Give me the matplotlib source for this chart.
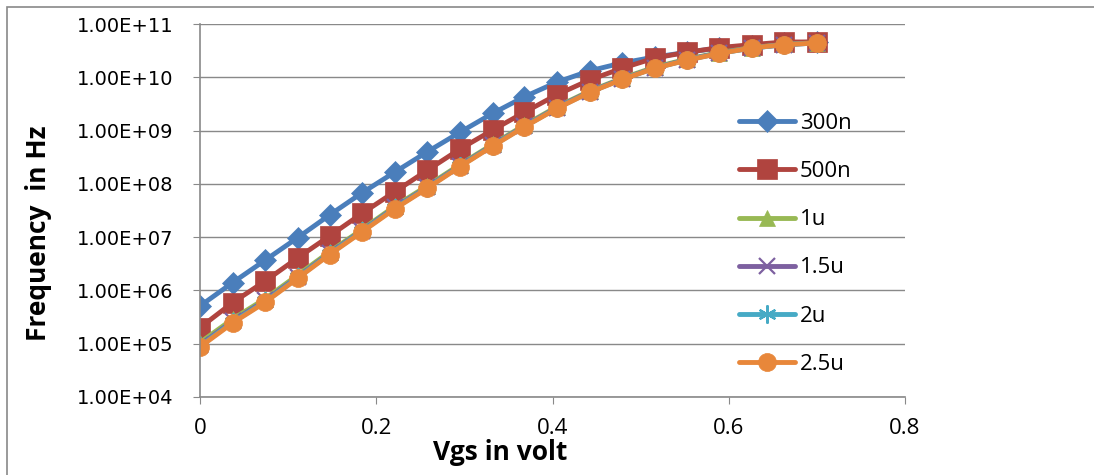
import matplotlib.pyplot as plt
from matplotlib.patches import Rectangle

# gate voltage (V) and oscillation frequency (Hz) for each channel length
vgs = [0, 0.037, 0.074, 0.111, 0.147, 0.184, 0.221, 0.258, 0.295, 0.332,
       0.368, 0.405, 0.442, 0.479, 0.516, 0.553, 0.589, 0.626, 0.663, 0.7]

f_300n = [5.1e5, 1.4e6, 3.7e6, 9.8e6, 2.6e7, 6.8e7, 1.66e8, 4.0e8, 9.3e8, 2.1e9,
          4.3e9, 8.1e9, 1.32e10, 1.86e10, 2.4e10, 2.95e10, 3.55e10, 3.9e10, 4.4e10, 4.6e10]
f_500n = [2.0e5, 5.9e5, 1.5e6, 4.1e6, 1.05e7, 2.8e7, 7.1e7, 1.8e8, 4.5e8, 1.02e9,
          2.2e9, 4.7e9, 8.9e9, 1.48e10, 2.3e10, 2.95e10, 3.6e10, 4.1e10, 4.6e10, 4.6e10]
f_1u = [1.05e5, 2.9e5, 7.0e5, 1.95e6, 5.3e6, 1.4e7, 3.8e7, 9.2e7, 2.3e8, 5.5e8,
        1.26e9, 2.8e9, 5.5e9, 9.6e9, 1.55e10, 2.2e10, 2.9e10, 3.6e10, 4.15e10, 4.45e10]
f_1u5 = [9.5e4, 2.65e5, 6.5e5, 1.8e6, 5.0e6, 1.33e7, 3.6e7, 8.7e7, 2.2e8, 5.3e8,
         1.21e9, 2.7e9, 5.35e9, 9.3e9, 1.5e10, 2.15e10, 2.85e10, 3.55e10, 4.1e10, 4.4e10]
f_2u = [9.0e4, 2.55e5, 6.2e5, 1.75e6, 4.85e6, 1.3e7, 3.5e7, 8.5e7, 2.15e8, 5.2e8,
        1.19e9, 2.65e9, 5.25e9, 9.2e9, 1.49e10, 2.12e10, 2.82e10, 3.52e10, 4.1e10, 4.4e10]
f_2u5 = [8.7e4, 2.45e5, 6.0e5, 1.7e6, 4.7e6, 1.26e7, 3.4e7, 8.3e7, 2.1e8, 5.1e8,
         1.17e9, 2.6e9, 5.2e9, 9.1e9, 1.48e10, 2.1e10, 2.8e10, 3.55e10, 4.1e10, 4.4e10]

labels = ["300n", "500n", "1u", "1.5u", "2u", "2.5u"]
series = [f_300n, f_500n, f_1u, f_1u5, f_2u, f_2u5]
colors = ["#4A7EBB", "#B0443F", "#98B954", "#7D60A0", "#46AAC5", "#E8873A"]
markers = ["D", "s", "^", "x", (6, 2, 0), "o"]
msizes = [11.5, 14, 11, 12, 13, 13]

ytick_vals = [1e4, 1e5, 1e6, 1e7, 1e8, 1e9, 1e10, 1e11]
ytick_labels = ["1.00E+04", "1.00E+05", "1.00E+06", "1.00E+07",
                "1.00E+08", "1.00E+09", "1.00E+10", "1.00E+11"]
xtick_vals = [0, 0.2, 0.4, 0.6, 0.8]
xtick_labels = ["0", "0.2", "0.4", "0.6", "0.8"]

plt.rcParams['font.family'] = ['Open Sans', 'DejaVu Sans']

fig = plt.figure(figsize=(10.94, 4.75), dpi=100)
ax = fig.add_axes([200/1094, 78/475, 705/1094, 373/475])

grey = "#898989"

for ys, lab, c, m, ms in zip(series, labels, colors, markers, msizes):
    ax.plot(vgs, ys, color=c, marker=m, markersize=ms, linewidth=3.5,
            markeredgewidth=1.6 if m in ("x", (6, 2, 0)) else 0.5,
            markeredgecolor=c, label=lab, solid_capstyle='round')

ax.set_yscale('log')
ax.set_ylim(1e4, 1e11)
ax.set_xlim(0, 0.8)
ax.set_yticks(ytick_vals)
ax.set_yticklabels(ytick_labels, fontsize=14, fontfamily='DejaVu Sans')
ax.minorticks_off()
ax.set_xticks(xtick_vals)
ax.set_xticklabels(xtick_labels, fontsize=16)

ax.yaxis.grid(True, color=grey, linewidth=1)
ax.set_axisbelow(True)
for side in ("top", "right"):
    ax.spines[side].set_visible(False)
for side in ("left", "bottom"):
    ax.spines[side].set_color(grey)
    ax.spines[side].set_linewidth(1.2)
ax.tick_params(axis='y', direction='out', length=5, color=grey, pad=14)
ax.tick_params(axis='x', direction='out', length=5, color=grey, pad=10)

fig.text(39/1094, 1 - 233/475, "Frequency  in Hz", rotation=90, ha='center', va='center',
         fontsize=19, fontweight='bold')
fig.text(500/1094, 1 - 452/475, "Vgs in volt", ha='center', va='center',
         fontsize=19, fontweight='bold')

ax.legend(loc='upper left', bbox_to_anchor=(0.764, 0.761), frameon=False,
          fontsize=16, handlelength=2.55,
          handletextpad=0.2, labelspacing=1.22, borderpad=0, borderaxespad=0)

# outer chart border
fig.patches.append(Rectangle((7/1094, -0.1), 1.2, (475-7)/475 + 0.1, transform=fig.transFigure,
                             fill=False, edgecolor=grey, linewidth=1.2))

fig.savefig("out.png", dpi=100)
